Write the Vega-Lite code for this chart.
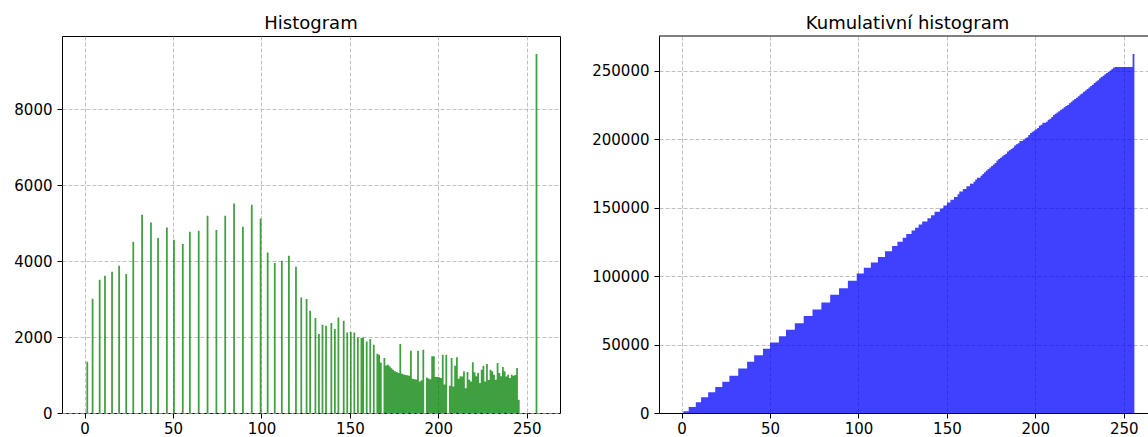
{
  "$schema": "https://vega.github.io/schema/vega-lite/v6.json",
  "padding": {"left": 13, "top": 14, "right": 0, "bottom": 0},
  "config": {
    "font": "DejaVu Sans",
    "view": {"stroke": "black", "strokeWidth": 1},
    "axis": {"labelFont": "DejaVu Sans", "labelFontSize": 15, "labelColor": "black", "tickColor": "black", "tickSize": 5, "labelPadding": 5, "grid": true, "gridColor": "#b0b0b0", "gridDash": [4, 2], "gridWidth": 0.8, "domain": false, "title": null},
    "axisX": {"labelPadding": 3},
    "title": {"font": "DejaVu Sans", "fontSize": 18, "fontWeight": "normal", "color": "black", "offset": 3},
    "concat": {"spacing": 30}
  },
  "data": {"values": [
    {"s":0,"e":1,"n":0},{"s":1,"e":2,"n":1350},{"s":2,"e":3,"n":0},{"s":3,"e":4,"n":0},{"s":4,"e":5,"n":3008},{"s":5,"e":6,"n":0},{"s":6,"e":7,"n":0},{"s":7,"e":8,"n":0},{"s":8,"e":9,"n":3508},{"s":9,"e":10,"n":0},
    {"s":10,"e":11,"n":0},{"s":11,"e":12,"n":3613},{"s":12,"e":13,"n":0},{"s":13,"e":14,"n":0},{"s":14,"e":15,"n":0},{"s":15,"e":16,"n":3718},{"s":16,"e":17,"n":0},{"s":17,"e":18,"n":0},{"s":18,"e":19,"n":0},{"s":19,"e":20,"n":3876},
    {"s":20,"e":21,"n":0},{"s":21,"e":22,"n":0},{"s":22,"e":23,"n":0},{"s":23,"e":24,"n":3658},{"s":24,"e":25,"n":0},{"s":25,"e":26,"n":0},{"s":26,"e":27,"n":0},{"s":27,"e":28,"n":4508},{"s":28,"e":29,"n":0},{"s":29,"e":30,"n":0},
    {"s":30,"e":31,"n":0},{"s":31,"e":32,"n":0},{"s":32,"e":33,"n":5218},{"s":33,"e":34,"n":0},{"s":34,"e":35,"n":0},{"s":35,"e":36,"n":0},{"s":36,"e":37,"n":0},{"s":37,"e":38,"n":5016},{"s":38,"e":39,"n":0},{"s":39,"e":40,"n":0},
    {"s":40,"e":41,"n":0},{"s":41,"e":42,"n":4605},{"s":42,"e":43,"n":0},{"s":43,"e":44,"n":0},{"s":44,"e":45,"n":0},{"s":45,"e":46,"n":0},{"s":46,"e":47,"n":4885},{"s":47,"e":48,"n":0},{"s":48,"e":49,"n":0},{"s":49,"e":50,"n":0},
    {"s":50,"e":51,"n":4560},{"s":51,"e":52,"n":0},{"s":52,"e":53,"n":0},{"s":53,"e":54,"n":0},{"s":54,"e":55,"n":0},{"s":55,"e":56,"n":4447},{"s":56,"e":57,"n":0},{"s":57,"e":58,"n":0},{"s":58,"e":59,"n":0},{"s":59,"e":60,"n":4771},
    {"s":60,"e":61,"n":0},{"s":61,"e":62,"n":0},{"s":62,"e":63,"n":0},{"s":63,"e":64,"n":0},{"s":64,"e":65,"n":4797},{"s":65,"e":66,"n":0},{"s":66,"e":67,"n":0},{"s":67,"e":68,"n":0},{"s":68,"e":69,"n":0},{"s":69,"e":70,"n":5192},
    {"s":70,"e":71,"n":0},{"s":71,"e":72,"n":0},{"s":72,"e":73,"n":0},{"s":73,"e":74,"n":0},{"s":74,"e":75,"n":4816},{"s":75,"e":76,"n":0},{"s":76,"e":77,"n":0},{"s":77,"e":78,"n":0},{"s":78,"e":79,"n":0},{"s":79,"e":80,"n":5192},
    {"s":80,"e":81,"n":0},{"s":81,"e":82,"n":0},{"s":82,"e":83,"n":0},{"s":83,"e":84,"n":0},{"s":84,"e":85,"n":5516},{"s":85,"e":86,"n":0},{"s":86,"e":87,"n":0},{"s":87,"e":88,"n":0},{"s":88,"e":89,"n":0},{"s":89,"e":90,"n":4903},
    {"s":90,"e":91,"n":0},{"s":91,"e":92,"n":0},{"s":92,"e":93,"n":0},{"s":93,"e":94,"n":0},{"s":94,"e":95,"n":5482},{"s":95,"e":96,"n":0},{"s":96,"e":97,"n":0},{"s":97,"e":98,"n":0},{"s":98,"e":99,"n":0},{"s":99,"e":100,"n":5121},
    {"s":100,"e":101,"n":0},{"s":101,"e":102,"n":0},{"s":102,"e":103,"n":0},{"s":103,"e":104,"n":4226},{"s":104,"e":105,"n":0},{"s":105,"e":106,"n":0},{"s":106,"e":107,"n":0},{"s":107,"e":108,"n":3947},{"s":108,"e":109,"n":0},{"s":109,"e":110,"n":0},
    {"s":110,"e":111,"n":0},{"s":111,"e":112,"n":4008},{"s":112,"e":113,"n":0},{"s":113,"e":114,"n":0},{"s":114,"e":115,"n":0},{"s":115,"e":116,"n":4139},{"s":116,"e":117,"n":0},{"s":117,"e":118,"n":0},{"s":118,"e":119,"n":0},{"s":119,"e":120,"n":3850},
    {"s":120,"e":121,"n":0},{"s":121,"e":122,"n":0},{"s":122,"e":123,"n":3042},{"s":123,"e":124,"n":0},{"s":124,"e":125,"n":0},{"s":125,"e":126,"n":3000},{"s":126,"e":127,"n":0},{"s":127,"e":128,"n":2692},{"s":128,"e":129,"n":0},{"s":129,"e":130,"n":0},
    {"s":130,"e":131,"n":2500},{"s":131,"e":132,"n":0},{"s":132,"e":133,"n":2079},{"s":133,"e":134,"n":0},{"s":134,"e":135,"n":2324},{"s":135,"e":136,"n":0},{"s":136,"e":137,"n":2297},{"s":137,"e":138,"n":0},{"s":138,"e":139,"n":0},{"s":139,"e":140,"n":2368},
    {"s":140,"e":141,"n":0},{"s":141,"e":142,"n":2210},{"s":142,"e":143,"n":0},{"s":143,"e":144,"n":2516},{"s":144,"e":145,"n":0},{"s":145,"e":146,"n":0},{"s":146,"e":147,"n":2429},{"s":147,"e":148,"n":0},{"s":148,"e":149,"n":2121},{"s":149,"e":150,"n":0},
    {"s":150,"e":151,"n":2132},{"s":151,"e":152,"n":0},{"s":152,"e":153,"n":2121},{"s":153,"e":154,"n":0},{"s":154,"e":155,"n":1989},{"s":155,"e":156,"n":0},{"s":156,"e":157,"n":1974},{"s":157,"e":158,"n":1989},{"s":158,"e":159,"n":0},{"s":159,"e":160,"n":1884},
    {"s":160,"e":161,"n":0},{"s":161,"e":162,"n":1947},{"s":162,"e":163,"n":0},{"s":163,"e":164,"n":1797},{"s":164,"e":165,"n":0},{"s":165,"e":166,"n":1560},{"s":166,"e":167,"n":1534},{"s":167,"e":168,"n":1332},{"s":168,"e":169,"n":0},{"s":169,"e":170,"n":1447},
    {"s":170,"e":171,"n":1253},{"s":171,"e":172,"n":1270},{"s":172,"e":173,"n":1230},{"s":173,"e":174,"n":1180},{"s":174,"e":175,"n":1140},{"s":175,"e":176,"n":1100},{"s":176,"e":177,"n":1080},{"s":177,"e":178,"n":1055},{"s":178,"e":179,"n":1816},{"s":179,"e":180,"n":1030},
    {"s":180,"e":181,"n":1015},{"s":181,"e":182,"n":1003},{"s":182,"e":183,"n":995},{"s":183,"e":184,"n":980},{"s":184,"e":185,"n":1641},{"s":185,"e":186,"n":900},{"s":186,"e":187,"n":890},{"s":187,"e":188,"n":880},{"s":188,"e":189,"n":1641},{"s":189,"e":190,"n":827},
    {"s":190,"e":191,"n":860},{"s":191,"e":192,"n":1667},{"s":192,"e":193,"n":0},{"s":193,"e":194,"n":933},{"s":194,"e":195,"n":910},{"s":195,"e":196,"n":890},{"s":196,"e":197,"n":1491},{"s":197,"e":198,"n":1491},{"s":198,"e":199,"n":950},{"s":199,"e":200,"n":950},
    {"s":200,"e":201,"n":940},{"s":201,"e":202,"n":920},{"s":202,"e":203,"n":1535},{"s":203,"e":204,"n":750},{"s":204,"e":205,"n":1535},{"s":205,"e":206,"n":0},{"s":206,"e":207,"n":720},{"s":207,"e":208,"n":1447},{"s":208,"e":209,"n":700},{"s":209,"e":210,"n":1246},
    {"s":210,"e":211,"n":1470},{"s":211,"e":212,"n":900},{"s":212,"e":213,"n":965},{"s":213,"e":214,"n":960},{"s":214,"e":215,"n":1100},{"s":215,"e":216,"n":650},{"s":216,"e":217,"n":1080},{"s":217,"e":218,"n":877},{"s":218,"e":219,"n":830},{"s":219,"e":220,"n":1333},
    {"s":220,"e":221,"n":1070},{"s":221,"e":222,"n":965},{"s":222,"e":223,"n":1060},{"s":223,"e":224,"n":790},{"s":224,"e":225,"n":1140},{"s":225,"e":226,"n":1246},{"s":226,"e":227,"n":830},{"s":227,"e":228,"n":1290},{"s":228,"e":229,"n":870},{"s":229,"e":230,"n":1140},
    {"s":230,"e":231,"n":1100},{"s":231,"e":232,"n":1009},{"s":232,"e":233,"n":877},{"s":233,"e":234,"n":1316},{"s":234,"e":235,"n":1050},{"s":235,"e":236,"n":965},{"s":236,"e":237,"n":1210},{"s":237,"e":238,"n":1100},{"s":238,"e":239,"n":960},{"s":239,"e":240,"n":1009},
    {"s":240,"e":241,"n":920},{"s":241,"e":242,"n":1009},{"s":242,"e":243,"n":980},{"s":243,"e":244,"n":1000},{"s":244,"e":245,"n":1184},{"s":245,"e":246,"n":350},{"s":246,"e":247,"n":0},{"s":247,"e":248,"n":0},{"s":248,"e":249,"n":0},{"s":249,"e":250,"n":0},
    {"s":250,"e":251,"n":0},{"s":251,"e":252,"n":0},{"s":252,"e":253,"n":0},{"s":253,"e":254,"n":0},{"s":254,"e":255,"n":0},{"s":255,"e":256,"n":9450}
  ]},
  "hconcat": [
    {
      "title": "Histogram",
      "width": 498,
      "height": 377,
      "mark": {"type": "area", "color": "green", "opacity": 0.75, "interpolate": "step-before"},
      "encoding": {
        "x": {"field": "e", "type": "quantitative", "sort": null, "scale": {"domain": [-12.8, 268.8], "nice": false, "zero": false}, "axis": {"values": [0, 50, 100, 150, 200, 250], "format": "d"}},
        "y": {"field": "n", "type": "quantitative", "scale": {"domain": [0, 9922], "nice": false}, "axis": {"values": [0, 2000, 4000, 6000, 8000], "format": "d"}}
      }
    },
    {
      "title": {"text": "Kumulativní histogram", "dx": 4},
      "width": 489,
      "height": 377,
      "view": {"stroke": null},
      "layer": [
        {
          "transform": [{"window": [{"op": "sum", "field": "n", "as": "cum"}], "sort": [{"field": "s"}], "frame": [null, 0]}],
          "mark": {"type": "area", "color": "blue", "opacity": 0.75, "interpolate": "step-before"},
          "encoding": {
            "x": {"field": "e", "type": "quantitative", "scale": {"domain": [-12.8, 263.7], "nice": false, "zero": false}, "axis": {"values": [0, 50, 100, 150, 200, 250], "format": "d", "domain": true, "domainColor": "black", "domainWidth": 1}},
            "y": {"field": "cum", "type": "quantitative", "scale": {"domain": [0, 275251], "nice": false}, "axis": {"values": [0, 50000, 100000, 150000, 200000, 250000], "format": "d", "domain": true, "domainColor": "black", "domainWidth": 1}}
          }
        },
        {
          "data": {"values": [{}]},
          "mark": {"type": "rule", "color": "black", "strokeWidth": 1},
          "encoding": {"y": {"datum": 275251}}
        }
      ]
    }
  ]
}
